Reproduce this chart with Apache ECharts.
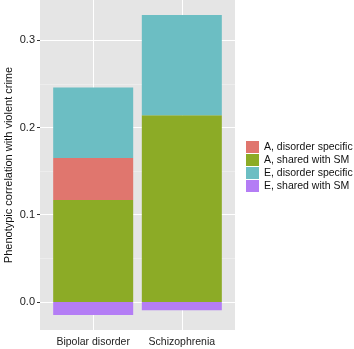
<!DOCTYPE html>
<html>
<head>
<meta charset="utf-8">
<script src="https://cdn.jsdelivr.net/npm/echarts@6/dist/echarts.min.js"></script>
<style>html,body{margin:0;padding:0;background:#fff}#c{width:354px;height:349px}</style>
</head>
<body>
<div id="c"></div>
<script>
var categories = ['Bipolar disorder', 'Schizophrenia'];
var categoryPos = [1, 2];
var aShared = [0.117, 0.214];
var aSpecific = [0.048, 0.0];
var eSpecific = [0.081, 0.115];
var eShared = [-0.015, -0.0095];
var yTicks = [0, 0.1, 0.2, 0.3];
var yMinorTicks = [0.05, 0.15, 0.25];
var legendOrder = ['A, disorder specific', 'A, shared with SM', 'E, disorder specific', 'E, shared with SM'];

// value first so that the stacked dimension is y
function pts(vals) { return vals.map(function (v, i) { return [v, categoryPos[i]]; }); }

var font = 'Liberation Sans, Arial, sans-serif';
var chart = echarts.init(document.getElementById('c'));
var barW = 80;
function bar(name, vals, color) {
  return { name: name, type: 'bar', stack: 's', barWidth: barW, encode: { x: 1, y: 0 }, data: pts(vals), itemStyle: { color: color } };
}
chart.setOption({
  animation: false,
  grid: { left: 40, right: 119, top: 0, bottom: 19, show: true, backgroundColor: '#E5E5E5', borderWidth: 0, containLabel: false, outerBoundsMode: 'none' },
  xAxis: {
    type: 'value', min: 0.4, max: 2.6,
    axisLine: { show: false },
    axisTick: { show: true, customValues: categoryPos, length: 3, lineStyle: { color: '#333' } },
    axisLabel: { customValues: categoryPos, formatter: function (v) { return categories[Math.round(v) - 1]; }, fontSize: 10.5, color: '#222', fontFamily: font, margin: 7 },
    splitLine: { show: true, lineStyle: { color: '#ffffff', width: 1 } }
  },
  yAxis: [{
    type: 'value', min: -0.0322, max: 0.3462,
    name: 'Phenotypic correlation with violent crime', nameLocation: 'middle', nameGap: 26, nameMoveOverlap: false,
    nameTextStyle: { fontSize: 11, color: '#111', fontFamily: font },
    axisLine: { show: false },
    axisTick: { show: true, customValues: yTicks, length: 3, lineStyle: { color: '#333' } },
    axisLabel: { customValues: yTicks, formatter: function (v) { return v.toFixed(1); }, fontSize: 11, color: '#222', fontFamily: font, margin: 5 },
    splitLine: { show: true, lineStyle: { color: '#ffffff', width: 1 } }
  }, {
    type: 'value', min: -0.0322, max: 0.3462, position: 'left',
    axisLine: { show: false },
    axisTick: { show: false, customValues: yMinorTicks },
    axisLabel: { show: false, customValues: yMinorTicks },
    splitLine: { show: true, lineStyle: { color: '#F2F2F2', width: 0.6 } }
  }],
  legend: {
    orient: 'vertical', left: 246, top: 141, padding: 0, data: legendOrder,
    icon: 'rect', itemWidth: 13, itemHeight: 12, itemGap: 1,
    textStyle: { fontSize: 10.5, color: '#111', fontFamily: font, lineHeight: 12 }
  },
  series: [
    bar('A, shared with SM', aShared, '#8CAB26'),
    bar('A, disorder specific', aSpecific, '#E0766E'),
    bar('E, disorder specific', eSpecific, '#6CBEC3'),
    bar('E, shared with SM', eShared, '#B47DF5')
  ]
});
</script>
</body>
</html>
